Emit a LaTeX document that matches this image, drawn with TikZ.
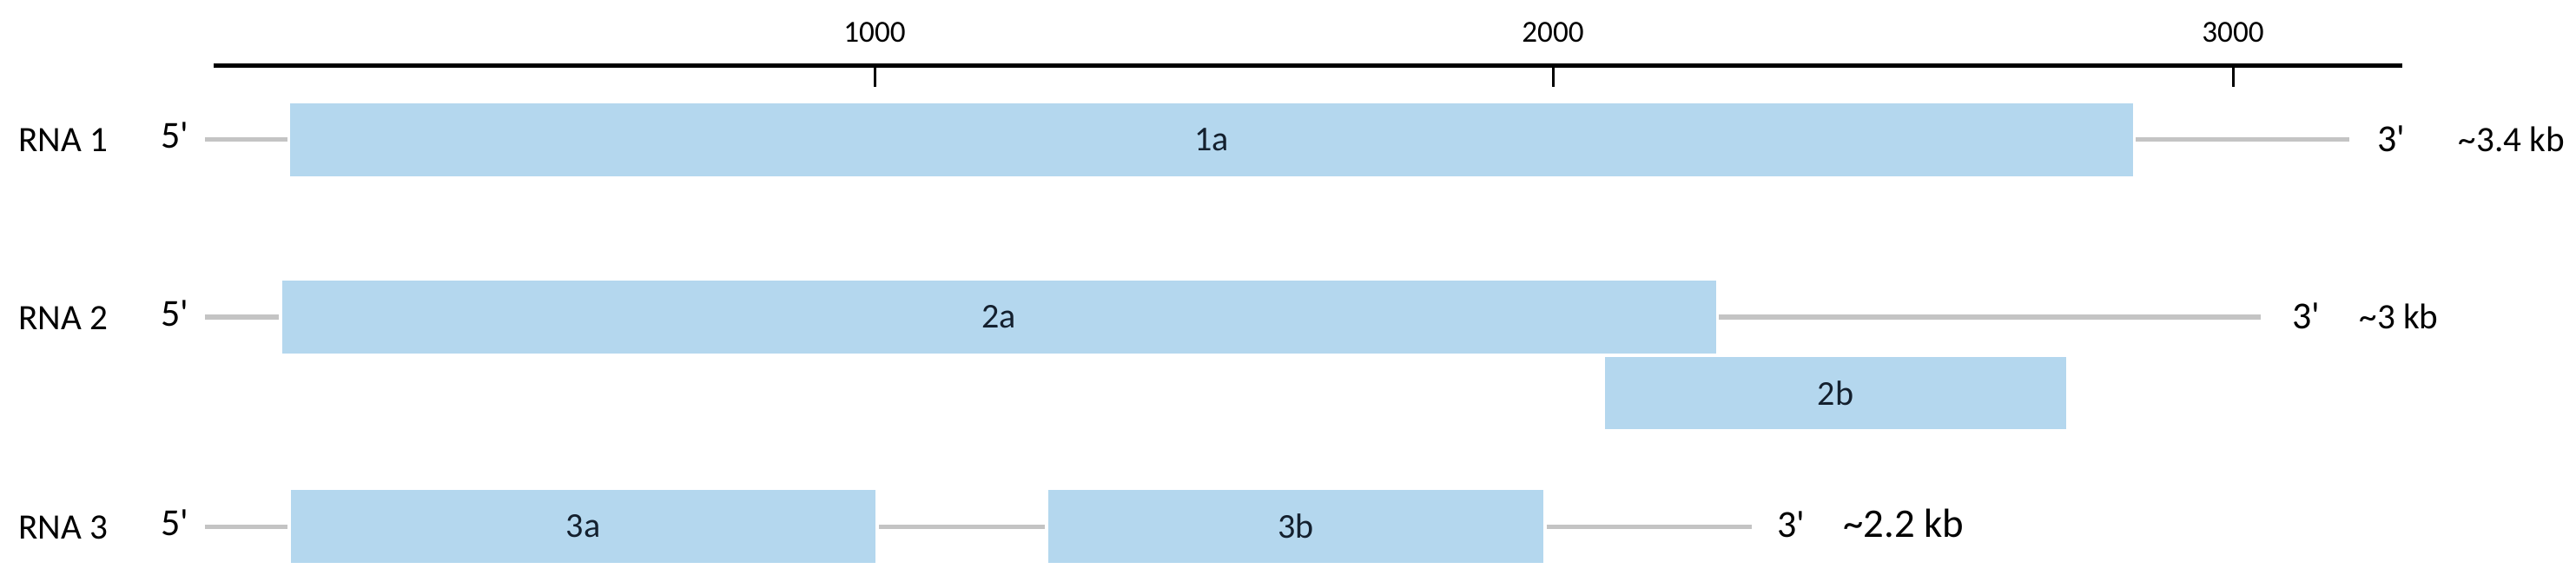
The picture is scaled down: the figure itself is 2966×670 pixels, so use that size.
\documentclass[tikz,border=0pt]{standalone}
\usepackage{fontspec}
\newfontfamily\carl{Carlito}
\definecolor{boxblue}{HTML}{B4D7EE}
\definecolor{rnagray}{HTML}{C4C4C4}
\definecolor{labelink}{HTML}{14202E}
\newcommand{\tld}{\char"7E\relax}
\begin{document}
\begin{tikzpicture}[x=0.01cm,y=-0.01cm,
  seg/.style={fill=boxblue, draw=none, inner sep=0pt, minimum height=0.83cm,
    font=\carl\fontsize{11.4}{13}\selectfont, text=labelink},
  rnaline/.style={draw=rnagray, line width=0.05cm},
  axisline/.style={draw=black, line width=0.05cm},
  tickline/.style={draw=black, line width=0.03cm},
  ticklab/.style={anchor=base, inner sep=0pt, font=\carl\fontsize{10}{12}\selectfont},
  rnalab/.style={anchor=base, inner sep=0pt, font=\carl\fontsize{11.7}{14}\selectfont},
  primelab/.style={anchor=base, inner sep=0pt, font=\carl\fontsize{12.5}{15}\selectfont},
  kblab/.style={anchor=base, inner sep=0pt, font=\carl\fontsize{11.7}{14}\selectfont},
  kbbig/.style={anchor=base, inner sep=0pt, font=\carl\fontsize{13.3}{16}\selectfont}]
\useasboundingbox (0,0) rectangle (2966,670);

% scale axis
\coordinate (a0) at (246,76);
\coordinate (a1) at (2766,76);
\draw[axisline] (a0) -- (a1);
\coordinate (t1) at (1007,76); \coordinate (t1b) at (1007,100);
\coordinate (t2) at (1788,76); \coordinate (t2b) at (1788,100);
\coordinate (t3) at (2571,76); \coordinate (t3b) at (2571,100);
\draw[tickline] (t1) -- (t1b);
\draw[tickline] (t2) -- (t2b);
\draw[tickline] (t3) -- (t3b);
\node[ticklab] (k1) at (1007,49) {1000};
\node[ticklab] (k2) at (1788,49) {2000};
\node[ticklab] (k3) at (2571,49) {3000};

% segments
\node[seg, minimum width=21.20cm] (s1a) at (1395,161) {1a};
\node[seg, minimum width=16.50cm] (s2a) at (1150,365) {2a};
\node[seg, minimum width=5.31cm] (s2b) at (2113.5,452.5) {2b};
\node[seg, minimum width=6.73cm] (s3a) at (671.5,606) {3a};
\node[seg, minimum width=5.70cm] (s3b) at (1492,606) {3b};

% RNA 1
\coordinate (l1) at (236,161);
\coordinate (r1) at (2705,161);
\draw[rnaline, shorten >=0.03cm] (l1) -- (s1a.west);
\draw[rnaline, shorten <=0.03cm] (s1a.east) -- (r1);
% RNA 2
\coordinate (l2) at (236,365);
\coordinate (r2) at (2603,365);
\draw[rnaline, shorten >=0.03cm] (l2) -- (s2a.west);
\draw[rnaline, shorten <=0.03cm] (s2a.east) -- (r2);
% RNA 3
\coordinate (l3) at (236,606);
\coordinate (r3) at (2017,606);
\draw[rnaline, shorten >=0.03cm] (l3) -- (s3a.west);
\draw[rnaline, shorten <=0.03cm, shorten >=0.03cm] (s3a.east) -- (s3b.west);
\draw[rnaline, shorten <=0.03cm] (s3b.east) -- (r3);

% labels
\node[rnalab] (n1) at (73,175) {RNA 1};
\node[rnalab] (n2) at (73,379) {RNA 2};
\node[rnalab] (n3) at (73,620) {RNA 3};
\node[primelab] (f1) at (201,171) {5'};
\node[primelab] (f2) at (201,375) {5'};
\node[primelab] (f3) at (201,616) {5'};
\node[primelab] (e1) at (2753,175) {3'};
\node[primelab] (e2) at (2655,378) {3'};
\node[primelab] (e3) at (2062,618) {3'};
\node[kblab] (z1) at (2892,175) {\tld3.4 kb};
\node[kblab] (z2) at (2762,378) {\tld3 kb};
\node[kbbig] (z3) at (2192,618) {\tld2.2 kb};
\end{tikzpicture}
\end{document}
